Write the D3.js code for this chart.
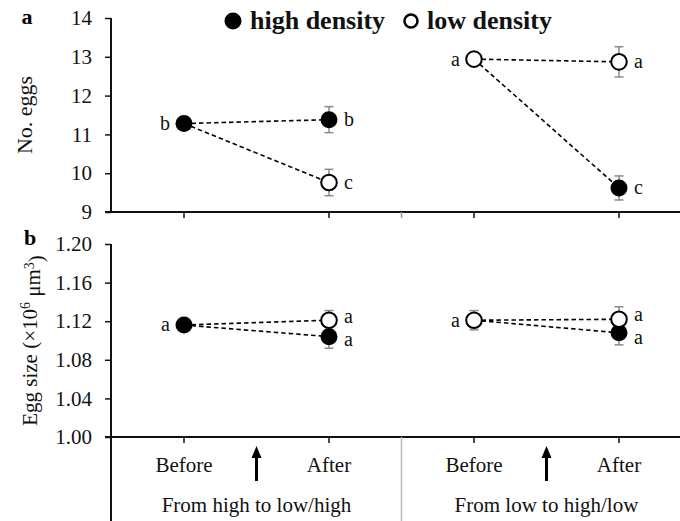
<!DOCTYPE html>
<html>
<head>
<meta charset="utf-8">
<script src="https://cdn.jsdelivr.net/npm/d3@7"></script>
<style>
  html, body { margin: 0; padding: 0; background: #fff; }
  svg { display: block; font-family: "Liberation Serif", "Times New Roman", serif; }
</style>
</head>
<body>
<svg id="chart" width="680" height="521"></svg>
<script>
// Treatment groups and sampling periods
const groups = ["From high to low/high", "From low to high/low"];
const periods = ["Before", "After"];
// Density of the single "before" point in each group
const beforeDensity = ["high", "low"];

// Panel a: number of eggs (mean ± SE)
const eggsBefore = [11.28, 12.94];
const eggsBeforeSE = [0.1, 0.1];
const eggsAfterHigh = [11.38, 9.62];
const eggsAfterHighSE = [0.335, 0.31];
const eggsAfterLow = [9.76, 12.87];
const eggsAfterLowSE = [0.34, 0.39];
const eggsBeforeLetter = ["b", "a"];
const eggsAfterHighLetter = ["b", "c"];
const eggsAfterLowLetter = ["c", "a"];

// Panel b: egg size ×10^6 µm^3 (mean ± SE)
const sizeBefore = [1.116, 1.121];
const sizeBeforeSE = [0.005, 0.01];
const sizeAfterHigh = [1.104, 1.108];
const sizeAfterHighSE = [0.012, 0.0125];
const sizeAfterLow = [1.121, 1.122];
const sizeAfterLowSE = [0.01, 0.013];
const sizeBeforeLetter = ["a", "a"];
const sizeAfterHighLetter = ["a", "a"];
const sizeAfterLowLetter = ["a", "a"];

// Tick labels
const eggTicks = [9, 10, 11, 12, 13, 14];
const sizeTicks = [1.00, 1.04, 1.08, 1.12, 1.16, 1.20];

const svg = d3.select("#chart");
const W = 680, H = 521;
const axisX = 111;
const fontSize = 21;
const letterSize = 20;

// x positions: one slot per group × period
const slots = [];
groups.forEach((g, gi) => periods.forEach(p => slots.push(gi + "|" + p)));
const x = d3.scalePoint().domain(slots).range([184, 619]);
const xs = (gi, p) => x(gi + "|" + p);
const midGroup = gi => (xs(gi, "Before") + xs(gi, "After")) / 2;
const groupSep = (xs(0, "After") + xs(1, "Before")) / 2;

const yA = d3.scaleLinear().domain([9, 14]).range([212, 18]);
const yB = d3.scaleLinear().domain([1.00, 1.20]).range([437, 244]);

function drawPanel(y, ticks, fmt, d, opts) {
  const g = svg.append("g");
  // y axis
  const ax = g.append("g").attr("transform", `translate(${axisX},0)`)
    .call(d3.axisLeft(y).tickValues(ticks).tickFormat(fmt).tickSize(6).tickPadding(13));
  ax.select(".domain").remove();
  ax.selectAll("text").attr("font-size", fontSize).attr("font-family", "Liberation Serif").attr("fill", "#111");
  ax.selectAll("line").attr("stroke", "#111").attr("stroke-width", 1.5);
  g.append("line").attr("x1", axisX).attr("x2", axisX)
    .attr("y1", y.range()[1]).attr("y2", opts.axisBottom)
    .attr("stroke", "#111").attr("stroke-width", 2);
  // x axis
  const x0 = y.range()[0];
  g.append("line").attr("x1", axisX - 6).attr("x2", W).attr("y1", x0).attr("y2", x0)
    .attr("stroke", "#111").attr("stroke-width", 2);
  g.selectAll(".xt").data(slots).join("line")
    .attr("x1", s => x(s)).attr("x2", s => x(s))
    .attr("y1", x0).attr("y2", x0 + 6)
    .attr("stroke", "#111").attr("stroke-width", 1.5);
  if (opts.sepTick) {
    g.append("line").attr("x1", groupSep).attr("x2", groupSep)
      .attr("y1", x0).attr("y2", x0 + 6).attr("stroke", "#999").attr("stroke-width", 1.5);
  }

  groups.forEach((grp, gi) => {
    const bx = xs(gi, "Before"), axp = xs(gi, "After");
    const by = y(d.before[gi]);
    const pts = [
      { v: d.afterLow[gi], se: d.afterLowSE[gi], fill: "#fff", lab: d.afterLowLetter[gi] },
      { v: d.afterHigh[gi], se: d.afterHighSE[gi], fill: "#000", lab: d.afterHighLetter[gi] }
    ];
    // dashed connectors
    pts.forEach(p => {
      g.append("line").attr("x1", bx).attr("y1", by).attr("x2", axp).attr("y2", y(p.v))
        .attr("stroke", "#000").attr("stroke-width", 1.6).attr("stroke-dasharray", "4.5,3");
    });
    // error bars
    const eb = [{ cx: bx, v: d.before[gi], se: d.beforeSE[gi] }]
      .concat(pts.map(p => ({ cx: axp, v: p.v, se: p.se })));
    eb.forEach(e => {
      const t = y(e.v + e.se), b = y(e.v - e.se);
      g.append("line").attr("x1", e.cx).attr("x2", e.cx).attr("y1", t).attr("y2", b)
        .attr("stroke", "#8a8a8a").attr("stroke-width", 1.5);
      [t, b].forEach(yy => g.append("line").attr("x1", e.cx - 4.5).attr("x2", e.cx + 4.5)
        .attr("y1", yy).attr("y2", yy).attr("stroke", "#8a8a8a").attr("stroke-width", 1.5));
    });
    // after points: high density first, low density over it
    [pts[1], pts[0]].forEach(p => {
      g.append("circle").attr("cx", axp).attr("cy", y(p.v)).attr("r", p.fill === "#000" ? 8.5 : 7.8)
        .attr("fill", p.fill).attr("stroke", "#000").attr("stroke-width", p.fill === "#000" ? 0 : 2);
    });
    // before point
    const hi = beforeDensity[gi] === "high";
    g.append("circle").attr("cx", bx).attr("cy", by).attr("r", hi ? 8.5 : 7.8)
      .attr("fill", hi ? "#000" : "#fff").attr("stroke", "#000").attr("stroke-width", hi ? 0 : 2);
    // significance letters
    g.append("text").attr("x", bx - 14).attr("y", by).attr("dy", "0.32em")
      .attr("text-anchor", "end").attr("font-size", letterSize).attr("fill", "#111").text(d.beforeLetter[gi]);
    let ly = pts.map(p => y(p.v));
    if (Math.abs(ly[0] - ly[1]) < 23) {
      const m = (ly[0] + ly[1]) / 2, s = ly[0] < ly[1] ? -1 : 1;
      ly = [m + s * 11.5, m - s * 11.5];
    }
    pts.forEach((p, i) => {
      g.append("text").attr("x", axp + 15).attr("y", ly[i]).attr("dy", "0.32em")
        .attr("text-anchor", "start").attr("font-size", letterSize).attr("fill", "#111").text(p.lab);
    });
  });

  // panel letter
  g.append("text").attr("x", opts.letterX).attr("y", y.range()[1] + opts.letterDy).attr("dy", "0.32em")
    .attr("text-anchor", "middle").attr("font-size", 22).attr("font-weight", "bold")
    .attr("fill", "#000").text(opts.letter);
  return g;
}

drawPanel(yA, eggTicks, d3.format("d"), {
  before: eggsBefore, beforeSE: eggsBeforeSE,
  afterHigh: eggsAfterHigh, afterHighSE: eggsAfterHighSE,
  afterLow: eggsAfterLow, afterLowSE: eggsAfterLowSE,
  beforeLetter: eggsBeforeLetter, afterHighLetter: eggsAfterHighLetter, afterLowLetter: eggsAfterLowLetter
}, { axisBottom: 212, sepTick: true, letter: "a", letterX: 27, letterDy: -1 });

drawPanel(yB, sizeTicks, d3.format(".2f"), {
  before: sizeBefore, beforeSE: sizeBeforeSE,
  afterHigh: sizeAfterHigh, afterHighSE: sizeAfterHighSE,
  afterLow: sizeAfterLow, afterLowSE: sizeAfterLowSE,
  beforeLetter: sizeBeforeLetter, afterHighLetter: sizeAfterHighLetter, afterLowLetter: sizeAfterLowLetter
}, { axisBottom: H, sepTick: false, letter: "b", letterX: 30, letterDy: -6 });

// y-axis titles
svg.append("text").attr("transform", `translate(25,${(yA.range()[0] + yA.range()[1]) / 2}) rotate(-90)`)
  .attr("text-anchor", "middle").attr("dy", "0.32em").attr("font-size", 22).attr("fill", "#111")
  .text("No. eggs");
const tB = svg.append("text").attr("transform", `translate(30,${(yB.range()[0] + yB.range()[1]) / 2}) rotate(-90)`)
  .attr("text-anchor", "middle").attr("dy", "0.32em").attr("font-size", 21).attr("fill", "#111");
tB.append("tspan").text("Egg size (×10");
tB.append("tspan").attr("dy", "-0.45em").attr("font-size", 14).text("6");
tB.append("tspan").attr("dy", "0.45em").text(" μm");
tB.append("tspan").attr("dy", "-0.45em").attr("font-size", 14).text("3");
tB.append("tspan").attr("dy", "0.45em").text(")");

// category labels under panel b
const base = yB.range()[0];
groups.forEach((grp, gi) => {
  periods.forEach(p => {
    svg.append("text").attr("x", xs(gi, p)).attr("y", base + 35)
      .attr("text-anchor", "middle").attr("font-size", fontSize).attr("fill", "#111").text(p);
  });
  svg.append("text").attr("x", midGroup(gi)).attr("y", base + 75)
    .attr("text-anchor", "middle").attr("font-size", fontSize).attr("fill", "#111").text(grp);
  // density switch arrow
  const ax = midGroup(gi);
  svg.append("line").attr("x1", ax).attr("x2", ax).attr("y1", base + 44).attr("y2", base + 19)
    .attr("stroke", "#000").attr("stroke-width", 3);
  svg.append("path")
    .attr("d", `M${ax},${base + 9} L${ax - 5},${base + 21} L${ax + 5},${base + 21} Z`)
    .attr("fill", "#000");
});
// group divider
svg.append("line").attr("x1", groupSep).attr("x2", groupSep).attr("y1", base).attr("y2", H)
  .attr("stroke", "#bbb").attr("stroke-width", 1.5);

// legend
const leg = svg.append("g").attr("font-weight", "bold").attr("font-size", 26).attr("fill", "#111");
leg.append("circle").attr("cx", 233).attr("cy", 21).attr("r", 8.5).attr("fill", "#000");
leg.append("text").attr("x", 250).attr("y", 21).attr("dy", "0.32em").text("high density");
leg.append("circle").attr("cx", 411).attr("cy", 21).attr("r", 6.5).attr("fill", "#fff")
  .attr("stroke", "#000").attr("stroke-width", 2.5);
leg.append("text").attr("x", 427).attr("y", 21).attr("dy", "0.32em").text("low density");
</script>
</body>
</html>
